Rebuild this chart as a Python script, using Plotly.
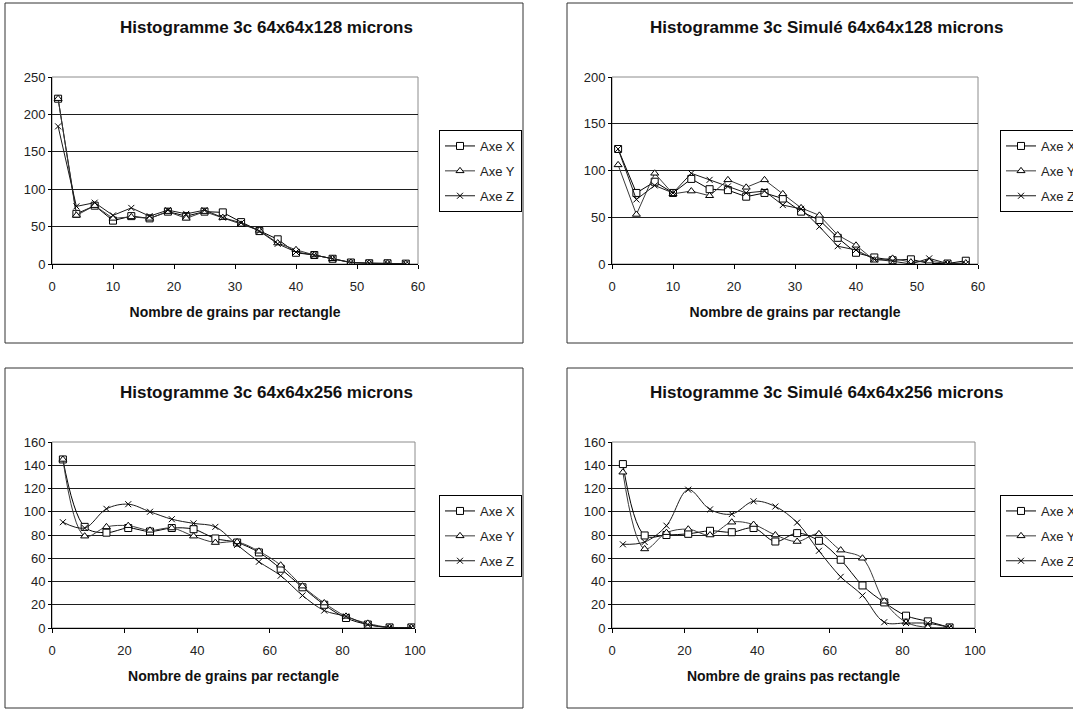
import plotly.graph_objects as go

W, H = 1073, 709

# ---------------- data ----------------
x_128 = [1, 4, 7, 10, 13, 16, 19, 22, 25, 28, 31, 34, 37, 40, 43, 46, 49, 52, 55, 58]
h128_x = [221, 67, 78, 58, 64, 61, 70, 64, 70, 69, 56, 44, 33, 15, 12, 7, 2, 1, 1, 0.5]
h128_y = [221, 65, 78, 61, 63, 61, 70, 61, 70, 62, 53, 45, 28, 19, 12, 7, 2, 1, 1, 0.5]
h128_z = [184, 77, 82, 65, 75, 64, 72, 67, 72, 62, 55, 44, 27, 16, 12, 7, 2, 1, 1, 0.5]

s128_x = [123, 76, 88, 76, 91, 80, 79, 72, 76, 70, 56, 47, 28, 12, 7, 4, 5, 0.5, 0.5, 3.5]
s128_y = [106, 53, 97, 75, 78, 73, 90, 82, 90, 75, 60, 52, 31, 20, 4, 6, 2, 3, 0.5, 1]
s128_z = [123, 69, 84, 76, 97, 90, 83, 76, 78, 63, 59, 40, 19, 15, 5, 3, 0, 6, 0.5, 0]

x_256 = [3, 9, 15, 21, 27, 33, 39, 45, 51, 57, 63, 69, 75, 81, 87, 93, 99]
h256_x = [145, 87, 82, 86, 83, 86, 85, 77, 73.5, 65, 51, 35, 20, 8.6, 3, 0.5, 0.5]
h256_y = [145, 79, 87, 88, 84, 86, 79, 73.5, 74, 66, 54, 36, 21.5, 10, 4, 0.5, 0.5]
h256_z = [91, 86, 102.5, 106.5, 100, 93.6, 90, 87, 71.5, 57, 45, 28, 15, 10, 3, 0.5, 0.5]

x_256s = [3, 9, 15, 21, 27, 33, 39, 45, 51, 57, 63, 69, 75, 81, 87, 93]
s256_x = [141, 79.6, 80, 81, 83.6, 82.4, 86, 74.4, 81.6, 75, 58.7, 36.6, 22, 10.6, 5.7, 0.5]
s256_y = [134, 68, 82, 85, 80, 91, 89, 80, 74.4, 81, 67, 60, 23, 5, 0.5, 0.5]
s256_z = [72, 74, 88, 119, 102, 98, 109, 104.5, 90.7, 66.4, 44, 28, 5, 4.3, 4, 0.5]

series_names = ["Axe X", "Axe Y", "Axe Z"]

titles = [
    "Histogramme 3c 64x64x128 microns",
    "Histogramme 3c Simulé 64x64x128 microns",
    "Histogramme 3c 64x64x256 microns",
    "Histogramme 3c Simulé 64x64x256 microns",
]
xtitles = [
    "Nombre de grains par rectangle",
    "Nombre de grains par rectangle",
    "Nombre de grains par rectangle",
    "Nombre de grains pas rectangle",
]

panels = [
    dict(x=x_128, ys=[h128_x, h128_y, h128_z], xr=[0, 60], xd=10, yr=[0, 250], yd=50,
         px=(52, 418), py=(77, 264), box=(5, 3, 523, 343), title_c=(266, 27),
         leg=(439, 130), shape="linear"),
    dict(x=x_128, ys=[s128_x, s128_y, s128_z], xr=[0, 60], xd=10, yr=[0, 200], yd=50,
         px=(612, 978), py=(77, 264), box=(567, 3, 1085, 343), title_c=(826, 27),
         leg=(1000, 130), shape="linear"),
    dict(x=x_256, ys=[h256_x, h256_y, h256_z], xr=[0, 100], xd=20, yr=[0, 160], yd=20,
         px=(52, 415), py=(442, 628), box=(5, 368, 523, 708), title_c=(266, 392),
         leg=(439, 495), shape="spline"),
    dict(x=x_256s, ys=[s256_x, s256_y, s256_z], xr=[0, 100], xd=20, yr=[0, 160], yd=20,
         px=(612, 975), py=(442, 628), box=(567, 368, 1085, 708), title_c=(826, 392),
         leg=(1000, 495), shape="spline"),
]

symbols = ["square", "triangle-up", "x-thin"]
line_colors = ["#000000", "#3a3a3a", "#1a1a1a"]
FONT = "Arial, Liberation Sans, sans-serif"

fig = go.Figure()
layout = dict(
    width=W, height=H,
    margin=dict(l=0, r=0, t=0, b=0, pad=0, autoexpand=False),
    paper_bgcolor="white", plot_bgcolor="white",
    font=dict(family=FONT, color="#222222"),
    shapes=[], annotations=[],
)

for i, p in enumerate(panels):
    n = i + 1
    xa = "xaxis" if n == 1 else f"xaxis{n}"
    ya = "yaxis" if n == 1 else f"yaxis{n}"
    xref = "x" if n == 1 else f"x{n}"
    yref = "y" if n == 1 else f"y{n}"
    legname = "legend" if n == 1 else f"legend{n}"

    for k in range(3):
        fig.add_trace(go.Scatter(
            x=p["x"], y=p["ys"][k], name=series_names[k],
            mode="lines+markers",
            line=dict(color=line_colors[k], width=1, shape=p["shape"], smoothing=1.0),
            marker=dict(symbol=symbols[k], size=7 if k < 2 else 6,
                        color="white" if k < 2 else "black",
                        line=dict(color="black", width=1)),
            xaxis=xref, yaxis=yref, legend=legname, legendgroup=f"g{n}{k}",
        ))

    layout[xa] = dict(
        domain=[p["px"][0] / W, p["px"][1] / W],
        anchor=yref, range=p["xr"], dtick=p["xd"], tick0=0,
        showgrid=False, zeroline=False, automargin=False,
        showline=True, linecolor="black", linewidth=1,
        ticks="outside", ticklen=4, tickcolor="black",
        tickfont=dict(size=13, color="#222222"), ticklabelstandoff=6,
        title=dict(text=xtitles[i], font=dict(size=14, color="#111111", weight="bold"),
                   standoff=14),
    )
    layout[ya] = dict(
        domain=[1 - p["py"][1] / H, 1 - p["py"][0] / H],
        anchor=xref, range=p["yr"], dtick=p["yd"], tick0=0,
        showgrid=True, gridcolor="#1e1e1e", gridwidth=1, zeroline=False, automargin=False,
        showline=True, linecolor="black", linewidth=1,
        ticks="outside", ticklen=3, tickcolor="black",
        tickfont=dict(size=13, color="#222222"),
    )
    layout[legname] = dict(
        x=p["leg"][0] / W, y=1 - p["leg"][1] / H, xanchor="left", yanchor="top",
        bordercolor="black", borderwidth=1, bgcolor="white",
        font=dict(size=13, color="#222222", family=FONT),
        itemwidth=30, tracegroupgap=5, traceorder="grouped",
    )

    # plot-area frame (grey)
    layout["shapes"].append(dict(
        type="rect", xref=f"{xref} domain", yref=f"{yref} domain",
        x0=0, x1=1, y0=0, y1=1, line=dict(color="#8c8c8c", width=1), layer="below"))
    # chart border
    bx0, by0, bx1, by1 = p["box"]
    layout["shapes"].append(dict(
        type="rect", xref="paper", yref="paper",
        x0=bx0 / W, x1=bx1 / W, y0=1 - by1 / H, y1=1 - by0 / H,
        line=dict(color="#333333", width=1), layer="below"))
    # chart title
    layout["annotations"].append(dict(
        text=titles[i], xref="paper", yref="paper",
        x=p["title_c"][0] / W, y=1 - p["title_c"][1] / H,
        xanchor="center", yanchor="middle", showarrow=False,
        font=dict(size=17, color="#111111", weight="bold", family=FONT)))

fig.update_layout(**layout)
fig.write_html(
    "out.html",
    config={"displayModeBar": False, "staticPlot": True},
    post_script="document.body.style.margin='0';document.body.style.overflow='hidden';",
)
